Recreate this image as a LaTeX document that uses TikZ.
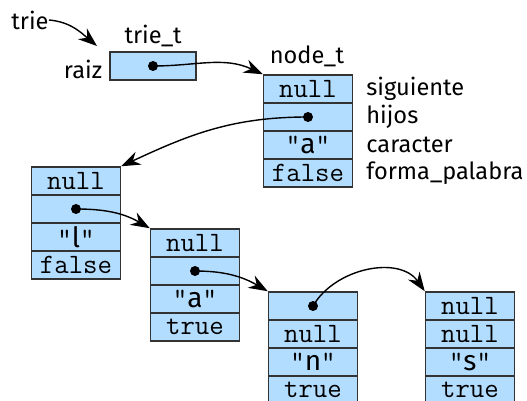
\documentclass[tikz,border=0pt]{standalone}
\usepackage{fontspec}
\setsansfont{Fira Sans}
\usetikzlibrary{arrows.meta}
\definecolor{celeste}{RGB}{179,221,255}
\tikzset{
  celda/.style={draw=black!80, fill=celeste, line width=0.75pt,
    minimum width=44.5pt, minimum height=14pt, inner sep=0pt,
    font=\ttfamily\fontsize{14}{14}\selectfont},
  etiq/.style={font=\sffamily\fontsize{11.8}{14}\selectfont, inner sep=0pt},
  punto/.style={circle, fill, inner sep=0pt, minimum size=5pt},
  flecha/.style={-{Stealth[length=9.5pt,width=7pt]}, line width=0.7pt}
}
% caracter entre comillas
\newcommand{\letra}[1]{"{\sffamily #1}"}
\begin{document}
\begin{tikzpicture}[x=0.5pt,y=-0.5pt]
  \useasboundingbox (0,0) rectangle (527,401);
  % variable y trie_t
  \node[etiq] (trie) at (30,20) {trie};
  \node[etiq] (tipo) at (153,36) {trie\_t};
  \node[etiq] (nraiz) at (83,69) {raiz};
  \node[celda, minimum width=43pt] (raiz) at (153,66) {};
  \node[punto] (p) at (raiz) {};
  \coordinate (c) at (97,46);
  % nodo 0
  \node[etiq] (tipo0) at (307,56) {node\_t};
  \node[celda] (s0) at (308,89) {null};
  \node[celda] (h0) at (308,117) {};
  \node[celda] (c0) at (308,145) {\letra{a}};
  \node[celda] (f0) at (308,173) {false};
  \node[punto] (p0) at (h0) {};
  \node[etiq, anchor=west] (ls) at (366,89) {siguiente};
  \node[etiq, anchor=west] (lh) at (366,117) {hijos};
  \node[etiq, anchor=west] (lc) at (366,145) {caracter};
  \node[etiq, anchor=west] (lf) at (366,173) {forma\_palabra};
  % nodo 1
  \node[celda] (s1) at (76,181) {null};
  \node[celda] (h1) at (76,209) {};
  \node[celda] (c1) at (76,237) {\letra{l}};
  \node[celda] (f1) at (76,265) {false};
  \node[punto] (p1) at (h1) {};
  % nodo 2
  \node[celda] (s2) at (195,243) {null};
  \node[celda] (h2) at (195,271) {};
  \node[celda] (c2) at (195,299) {\letra{a}};
  \node[celda] (f2) at (195,327) {true};
  \node[punto] (p2) at (h2) {};
  % nodo 3
  \node[celda] (s3) at (313,306) {};
  \node[celda] (h3) at (313,334) {null};
  \node[celda] (c3) at (313,362) {\letra{n}};
  \node[celda] (f3) at (313,390) {true};
  \node[punto] (p3) at (s3) {};
  % nodo 4
  \node[celda] (s4) at (470,306) {null};
  \node[celda] (h4) at (470,334) {null};
  \node[celda] (c4) at (470,362) {\letra{s}};
  \node[celda] (f4) at (470,390) {true};
  % punteros
  \draw [flecha] (trie.east) to [out=-5,in=140] (c);
  \draw [flecha] (p.center) to [out=0,in=155] (s0.north west);
  \draw [flecha] (p0.center) to [out=180,in=25] (s1.north east);
  \draw [flecha] (p1.center) to [out=0,in=150] (s2.north west);
  \draw [flecha] (p2.center) to [out=0,in=150] (s3.north west);
  \draw [flecha] (p3.center) to [out=60,in=125] (s4.north west);
\end{tikzpicture}
\end{document}
